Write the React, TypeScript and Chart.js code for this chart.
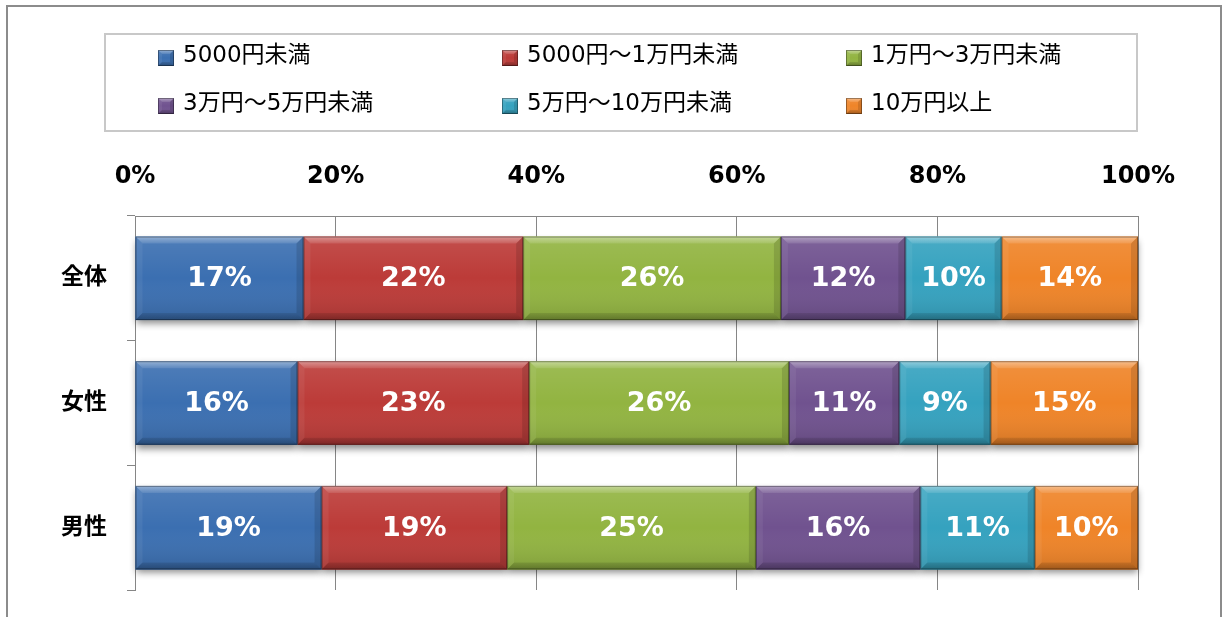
import React, { useEffect, useRef } from 'react';
import { Chart, registerables } from 'chart.js';

Chart.register(...registerables);

const categories = ['全体', '女性', '男性'];
const seriesNames = [
  '5000円未満',
  '5000円～1万円未満',
  '1万円～3万円未満',
  '3万円～5万円未満',
  '5万円～10万円未満',
  '10万円以上',
];
const under5000 = [16.8, 16.2, 18.6];
const from5000to1man = [21.9, 23.1, 18.5];
const from1to3man = [25.7, 25.9, 24.8];
const from3to5man = [12.4, 11.0, 16.4];
const from5to10man = [9.6, 9.1, 11.4];
const over10man = [13.6, 14.7, 10.3];
const seriesValues = [under5000, from5000to1man, from1to3man, from3to5man, from5to10man, over10man];
const colors = ['#3b6fb1', '#bc3b38', '#92b441', '#70528f', '#35a2bf', '#ef8428'];

const FONT = '"DejaVu Sans", "Noto Sans CJK JP", sans-serif';

function bevel(ctx: CanvasRenderingContext2D, x0: number, y0: number, x1: number, y1: number, b: number) {
  const g = ctx.createLinearGradient(0, y0, 0, y1);
  g.addColorStop(0, 'rgba(255,255,255,0.10)');
  g.addColorStop(0.5, 'rgba(255,255,255,0)');
  g.addColorStop(1, 'rgba(0,0,0,0.12)');
  ctx.fillStyle = g;
  ctx.fillRect(x0, y0, x1 - x0, y1 - y0);
  const poly = (pts: number[][], style: string | CanvasGradient) => {
    ctx.beginPath();
    ctx.moveTo(pts[0][0], pts[0][1]);
    for (let i = 1; i < pts.length; i++) ctx.lineTo(pts[i][0], pts[i][1]);
    ctx.closePath();
    ctx.fillStyle = style;
    ctx.fill();
  };
  const tg = ctx.createLinearGradient(0, y0, 0, y0 + b);
  tg.addColorStop(0, 'rgba(255,255,255,0.40)');
  tg.addColorStop(1, 'rgba(255,255,255,0.10)');
  poly([[x0, y0], [x1, y0], [x1 - b, y0 + b], [x0 + b, y0 + b]], tg);
  poly([[x0, y0], [x0 + b, y0 + b], [x0 + b, y1 - b], [x0, y1]], 'rgba(255,255,255,0.06)');
  poly([[x1, y0], [x1, y1], [x1 - b, y1 - b], [x1 - b, y0 + b]], 'rgba(0,0,0,0.12)');
  const bg = ctx.createLinearGradient(0, y1 - b, 0, y1);
  bg.addColorStop(0, 'rgba(0,0,0,0.10)');
  bg.addColorStop(1, 'rgba(0,0,0,0.25)');
  poly([[x0, y1], [x1, y1], [x1 - b, y1 - b], [x0 + b, y1 - b]], bg);
  ctx.strokeStyle = 'rgba(0,0,0,0.35)';
  ctx.lineWidth = 1;
  ctx.strokeRect(x0 + 0.5, y0 + 0.5, x1 - x0 - 1, y1 - y0 - 1);
}

const decorPlugin = {
  id: 'decor',
  beforeDraw(chart: any) {
    const ctx = chart.ctx as CanvasRenderingContext2D;
    ctx.save();
    ctx.fillStyle = '#ffffff';
    ctx.fillRect(0, 0, chart.width, chart.height);
    ctx.strokeStyle = '#8c8c8c';
    ctx.lineWidth = 2;
    ctx.strokeRect(7, 6, 1214, 640);
    ctx.strokeStyle = '#c8c8c8';
    ctx.lineWidth = 2;
    ctx.strokeRect(105, 34, 1032, 97);
    const colX = [158, 502, 846];
    const rowY = [56, 104];
    ctx.font = `23px ${FONT}`;
    ctx.textBaseline = 'middle';
    ctx.textAlign = 'left';
    chart.data.datasets.forEach((ds: any, i: number) => {
      const cx = colX[i % 3];
      const cy = rowY[Math.floor(i / 3)];
      const s = 16;
      const x0 = cx, y0 = cy - s / 2 + 2;
      ctx.fillStyle = ds.backgroundColor;
      ctx.fillRect(x0, y0, s, s);
      bevel(ctx, x0, y0, x0 + s, y0 + s, 4);
      ctx.fillStyle = '#000000';
      ctx.fillText(ds.label, cx + 25, cy);
    });
    ctx.restore();
  },
  beforeDatasetsDraw(chart: any) {
    const ctx = chart.ctx as CanvasRenderingContext2D;
    ctx.save();
    chart.data.datasets.forEach((ds: any, di: number) => {
      const meta = chart.getDatasetMeta(di);
      meta.data.forEach((el: any) => {
        const x0 = Math.min(el.base, el.x);
        const x1 = Math.max(el.base, el.x);
        const y0 = el.y - el.height / 2;
        ctx.shadowColor = 'rgba(0,0,0,0.45)';
        ctx.shadowBlur = 7;
        ctx.shadowOffsetX = 0;
        ctx.shadowOffsetY = 4;
        ctx.fillStyle = ds.backgroundColor;
        ctx.fillRect(x0, y0, x1 - x0, el.height);
      });
    });
    ctx.restore();
  },
  afterDatasetsDraw(chart: any) {
    const ctx = chart.ctx as CanvasRenderingContext2D;
    ctx.save();
    chart.data.datasets.forEach((ds: any, di: number) => {
      const meta = chart.getDatasetMeta(di);
      meta.data.forEach((el: any, i: number) => {
        const x0 = Math.min(el.base, el.x);
        const x1 = Math.max(el.base, el.x);
        const y0 = el.y - el.height / 2;
        const y1 = el.y + el.height / 2;
        bevel(ctx, x0, y0, x1, y1, 7);
        ctx.fillStyle = '#ffffff';
        ctx.font = `bold 27px ${FONT}`;
        ctx.textAlign = 'center';
        ctx.textBaseline = 'middle';
        ctx.fillText(Math.round(ds.data[i]) + '%', (x0 + x1) / 2, el.y + 1);
      });
    });
    ctx.restore();
  },
};

export default function App() {
  const ref = useRef<HTMLCanvasElement>(null);
  useEffect(() => {
    document.body.style.margin = '0';
    const canvas = ref.current!;
    const chart = new Chart(canvas, {
      type: 'bar',
      data: {
        labels: categories,
        datasets: seriesNames.map((name, i) => ({
          label: name,
          data: seriesValues[i],
          backgroundColor: colors[i],
          borderWidth: 0,
          categoryPercentage: 1,
          barPercentage: 0.67,
        })),
      },
      options: {
        indexAxis: 'y',
        animation: false,
        responsive: false,
        devicePixelRatio: 1,
        layout: { padding: { top: 150, left: 20, right: 86, bottom: 27 } },
        plugins: { legend: { display: false }, tooltip: { enabled: false } },
        scales: {
          x: {
            position: 'top',
            stacked: true,
            min: 0,
            max: 100,
            afterFit: (s: any) => { s.height = 66; },
            ticks: {
              stepSize: 20,
              callback: (v: any) => v + '%',
              font: { family: FONT, size: 24, weight: 'bold' },
              color: '#000000',
              padding: 25,
            },
            grid: { color: '#868686', lineWidth: 1, drawTicks: false },
            border: { display: true, color: '#868686' },
          },
          y: {
            stacked: true,
            afterFit: (s: any) => {
              s.width = 115;
              s.paddingTop = 0;
              s.paddingBottom = 0;
            },
            ticks: {
              font: { family: FONT, size: 23, weight: 'bold' },
              color: '#000000',
              padding: 20,
            },
            grid: { drawOnChartArea: false, drawTicks: true, tickLength: 8, color: '#868686', offset: true },
            border: { display: true, color: '#868686' },
          },
        },
      },
      plugins: [decorPlugin],
    });
    return () => chart.destroy();
  }, []);
  return <canvas ref={ref} width={1224} height={617} style={{ display: 'block' }} />;
}
